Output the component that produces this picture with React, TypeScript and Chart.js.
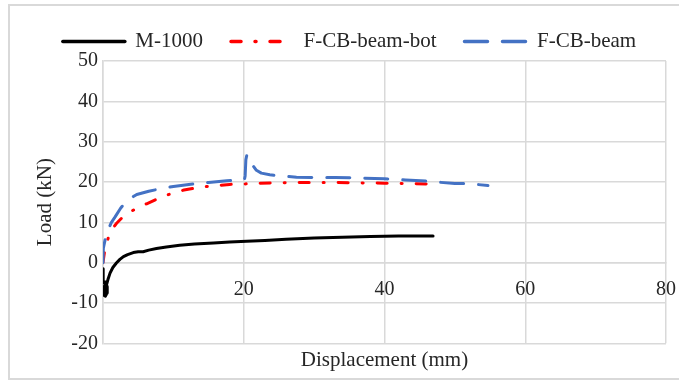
import React, { useEffect, useRef } from 'react';
import { Chart, registerables } from 'chart.js';

Chart.register(...registerables);

// Load–displacement curves
const seriesNames = ['M-1000', 'F-CB-beam-bot', 'F-CB-beam'];

const m1000Disp = [0, 0.05, 0.0, 0.35, 0.6, 0.6, 0.35, 0.05, 0.0, 0.3, 0.5, 0.4, 0.15, 0.45, 0.7, 1.0, 1.4, 1.9, 2.4, 2.9, 3.5, 4.3, 5.0, 5.7, 6.5, 7.6, 9.0, 10.9, 13.0, 15.7, 18.0, 20.4, 23.0, 26.0, 30.0, 34.0, 38.0, 42.0, 46.9];
const m1000Load = [-1.5, -4.0, -5.0, -4.8, -6.0, -7.5, -8.3, -8.0, -6.5, -5.5, -6.5, -7.8, -7.5, -5.8, -4.2, -2.6, -1.2, -0.1, 0.8, 1.5, 2.0, 2.5, 2.7, 2.7, 3.1, 3.5, 3.9, 4.3, 4.6, 4.9, 5.1, 5.3, 5.5, 5.8, 6.1, 6.3, 6.5, 6.6, 6.6];

const botDisp = [0, 0.2, 0.5, 1.0, 1.9, 2.8, 3.8, 5.0, 6.2, 8.0, 9.5, 11.5, 13.8, 16.0, 18.0, 19.9, 22.0, 25.0, 28.0, 32.0, 36.0, 40.0, 44.0, 46.6];
const botLoad = [0, 2.5, 4.8, 7.5, 9.7, 11.3, 12.5, 13.7, 14.6, 16.0, 17.0, 18.0, 18.7, 19.1, 19.4, 19.5, 19.7, 19.8, 19.9, 19.9, 19.8, 19.7, 19.6, 19.5];

const beamDisp = [0, 0.05, 0.4, 0.7, 1.2, 1.7, 2.5, 3.4, 4.8, 6.5, 8.1, 10.0, 12.8, 15.0, 17.6, 19.9, 20.1, 20.2, 20.3, 20.45, 20.7, 21.2, 21.8, 22.5, 23.7, 25.0, 27.5, 30.0, 33.0, 36.0, 40.0, 43.0, 46.0, 50.0, 52.0, 54.7];
const beamLoad = [0, 3.6, 6.5, 8.0, 10.0, 11.3, 13.5, 15.4, 16.9, 17.7, 18.3, 18.9, 19.5, 19.9, 20.3, 20.5, 20.6, 21.5, 25.5, 26.8, 26.0, 24.3, 22.9, 22.2, 21.8, 21.5, 21.2, 21.1, 21.1, 21.0, 20.8, 20.5, 20.2, 19.6, 19.6, 19.1];

// Axis ranges and labelled ticks
const xMin = 0;
const xMax = 80;
const xStep = 20;
const xTickLabels = [20, 40, 60, 80];
const yMin = -20;
const yMax = 50;
const yStep = 10;

const xTitle = 'Displacement (mm)';
const yTitle = 'Load (kN)';

const FONT = "'Liberation Serif', 'Times New Roman', serif";
const TEXT = '#262626';
const GRID = '#d9d9d9';

const toPoints = (xs: number[], ys: number[]) => xs.map((x, i) => ({ x, y: ys[i] }));

export default function App() {
  const canvasRef = useRef<HTMLCanvasElement | null>(null);

  useEffect(() => {
    const canvas = canvasRef.current;
    if (!canvas) return;

    const chart = new Chart(canvas, {
      type: 'scatter',
      data: {
        datasets: [
          {
            label: seriesNames[0],
            data: toPoints(m1000Disp, m1000Load),
            showLine: true,
            borderColor: '#000000',
            backgroundColor: '#000000',
            borderWidth: 3,
            pointRadius: 0,
            borderCapStyle: 'round',
            borderJoinStyle: 'round',
            order: 2,
          },
          {
            label: seriesNames[1],
            data: toPoints(botDisp, botLoad),
            showLine: true,
            borderColor: '#ff0000',
            backgroundColor: '#ff0000',
            borderWidth: 3,
            borderDash: [10, 14, 1, 14],
            borderCapStyle: 'round',
            borderJoinStyle: 'round',
            pointRadius: 0,
            order: 1,
          },
          {
            label: seriesNames[2],
            data: toPoints(beamDisp, beamLoad),
            showLine: true,
            borderColor: '#4472c4',
            backgroundColor: '#4472c4',
            borderWidth: 3,
            borderDash: [23, 15],
            borderCapStyle: 'round',
            borderJoinStyle: 'round',
            pointRadius: 0,
            order: 0,
          },
        ],
      },
      options: {
        responsive: false,
        animation: false,
        layout: { padding: { left: 33, right: 13, top: 3, bottom: 7 } },
        plugins: {
          tooltip: { enabled: false },
          legend: {
            position: 'top',
            maxHeight: 58,
            labels: {
              usePointStyle: true,
              pointStyle: 'line',
              pointStyleWidth: 62,
              padding: 28,
              color: TEXT,
              font: { family: FONT, size: 21 },
              sort: (a: any, b: any) => a.datasetIndex - b.datasetIndex,
              generateLabels: (c: any) => {
                const base = (Chart.defaults as any).plugins.legend.labels.generateLabels(c);
                return base.map((item: any) => {
                  const ds = c.data.datasets[item.datasetIndex];
                  return {
                    ...item,
                    pointStyle: 'line',
                    strokeStyle: ds.borderColor,
                    fillStyle: ds.borderColor,
                    lineWidth: 3.5,
                    lineDash: ds.borderDash || [],
                    lineCap: 'round',
                  };
                });
              },
            },
          },
        },
        scales: {
          x: {
            type: 'linear',
            position: { y: 0 } as any,
            min: xMin,
            max: xMax,
            grid: {
              color: GRID,
              lineWidth: 1.5,
              drawTicks: true,
              tickLength: 15,
              tickColor: 'rgba(0,0,0,0)',
            },
            border: { color: GRID, width: 1.5 },
            ticks: {
              stepSize: xStep,
              padding: 0,
              color: TEXT,
              font: { family: FONT, size: 20 },
              callback: (v: any) => (xTickLabels.includes(Number(v)) ? String(v) : ''),
            },
          },
          xTitle: {
            type: 'linear',
            position: 'bottom',
            min: xMin,
            max: xMax,
            grid: { display: false, drawTicks: false, tickLength: 0 },
            border: { display: false },
            ticks: { display: false },
            title: {
              display: true,
              text: xTitle,
              color: TEXT,
              font: { family: FONT, size: 21 },
              padding: { top: 4.5, bottom: 0 },
            },
          },
          y: {
            type: 'linear',
            position: 'left',
            min: yMin,
            max: yMax,
            afterFit: (scale: any) => {
              scale.width = 70;
            },
            grid: { color: GRID, lineWidth: 1.5, drawTicks: false, tickLength: 0 },
            border: { color: GRID, width: 1.5 },
            ticks: {
              stepSize: yStep,
              padding: 5,
              color: TEXT,
              font: { family: FONT, size: 20 },
            },
            title: {
              display: true,
              text: yTitle,
              color: TEXT,
              font: { family: FONT, size: 21 },
              padding: { top: 0, bottom: 0 },
            },
          },
        },
      },
    });

    return () => chart.destroy();
  }, []);

  return (
    <div
      style={{
        position: 'fixed',
        left: 0,
        top: 0,
        width: 679,
        height: 380,
        overflow: 'hidden',
        background: '#ffffff',
      }}
    >
      <div
        style={{
          position: 'absolute',
          left: 8,
          top: 4,
          width: 720,
          height: 376,
          border: '2px solid #d9d9d9',
          boxSizing: 'border-box',
        }}
      />
      <canvas
        ref={canvasRef}
        width={679}
        height={380}
        style={{ position: 'absolute', left: 0, top: 0, width: 679, height: 380 }}
      />
    </div>
  );
}
